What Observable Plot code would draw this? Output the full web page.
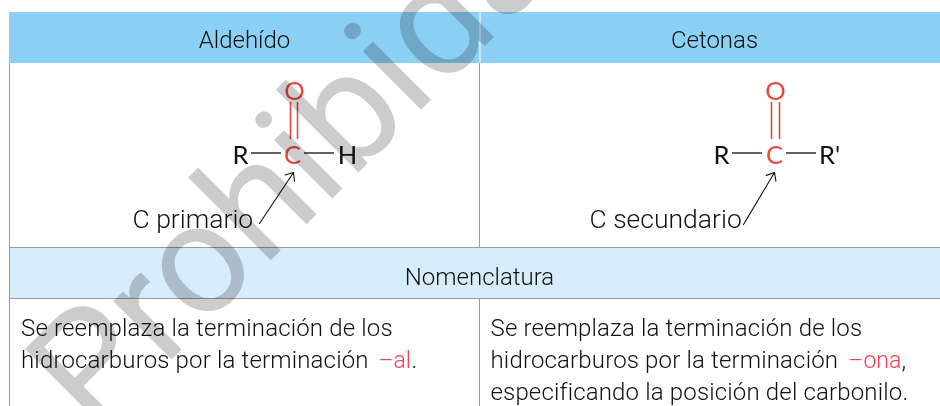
<!DOCTYPE html>
<html><head><meta charset="utf-8">
<style>
html,body{margin:0;padding:0;background:#fff;overflow:hidden}
svg{display:block}
.ls text{letter-spacing:0.16px}
</style>
<script src="https://cdn.jsdelivr.net/npm/d3@7"></script>
<script src="https://cdn.jsdelivr.net/npm/@observablehq/plot@0.6"></script>
</head><body><div id="c"></div>
<script>
const headers = [{t:"Aldehído",x:244},{t:"Cetonas",x:714}];
const subheader = [{t:"Nomenclatura",x:479}];
const body = [
 {t:"Se reemplaza la terminación de los",x:20.5,y:335},
 {t:"hidrocarburos por la terminación",x:20.5,y:367},
 {t:"Se reemplaza la terminación de los",x:490,y:335},
 {t:"hidrocarburos por la terminación",x:490,y:367},
 {t:"especificando la posición del carbonilo.",x:490,y:399},
 {t:".",x:411,y:367},{t:",",x:901,y:367}
];
const endings = [{t:"–al",x:378,y:367},{t:"–ona",x:848,y:367}];
const atomsBlack = [{t:"R",x:240},{t:"H",x:347},{t:"R",x:721},{t:"R'",x:829}];
const atomsRed = [{t:"O",x:294,y:99},{t:"C",x:292,y:163},{t:"O",x:775,y:99},{t:"C",x:774,y:163}];
const singleBonds = [{x1:251,x2:281},{x1:304,x2:334},{x1:732,x2:762},{x1:786,x2:816}];
const doubleBonds = [290,297,771,779];
const captions = [{t:"C primario",x:132},{t:"C secundario",x:589}];
const arrows = [{x1:259,y1:223,x2:293,y2:172},{x1:743,y1:224,x2:774,y2:172}];
const grid = [
 {x:9,y1:63,y2:406},{x:479,y1:63,y2:247},{x:479,y1:298,y2:406}
];
const hlines = [247,298];
const watermark = [{t:"Prohibida su reproducción",x:94,y:436}];

const font = "Roboto";
const plot = Plot.plot({
 width:940,height:406,margin:0,
 x:{domain:[0,940],range:[0,940],axis:null},
 y:{domain:[0,406],range:[0,406],axis:null},
 style:{background:"#fff",overflow:"hidden"},
 marks:[
  Plot.rect([{}],{x1:9,x2:479.5,y1:12,y2:63,fill:"#8bd1f5"}),
  Plot.rect([{}],{x1:480.5,x2:940,y1:12,y2:63,fill:"#8bd1f5"}),
  Plot.rect([{}],{x1:9,x2:940,y1:248,y2:298,fill:"#d7edfb"}),
  Plot.ruleX(grid,{x:"x",y1:"y1",y2:"y2",stroke:"#9a9a9a",strokeWidth:1}),
  Plot.ruleY(hlines,{y:d=>d,x1:9,x2:940,stroke:"#9a9a9a",strokeWidth:1}),
  Plot.ruleX(doubleBonds,{x:d=>d,y1:102,y2:139,stroke:"#e8473a",strokeWidth:1.6}),
  Plot.ruleY(singleBonds,{y:152.5,x1:"x1",x2:"x2",stroke:"#111",strokeWidth:1.3}),
  Plot.arrow(arrows,{x1:"x1",y1:"y1",x2:"x2",y2:"y2",stroke:"#111",strokeWidth:1.1,headLength:12,headAngle:80}),
  Plot.text(headers,{x:"x",y:47.5,text:"t",fontFamily:font,fontWeight:300,fontSize:24,fill:"#111",lineAnchor:"bottom"}),
  Plot.text(subheader,{x:"x",y:284,text:"t",fontFamily:font,fontWeight:300,fontSize:24,fill:"#111",lineAnchor:"bottom"}),
  Plot.text(body,{x:"x",y:"y",text:"t",textAnchor:"start",fontFamily:font,fontWeight:300,fontSize:24,fill:"#111",lineAnchor:"bottom",className:"ls"}),
  Plot.text(endings,{x:"x",y:"y",text:"t",textAnchor:"start",fontFamily:font,fontWeight:300,fontSize:23,fill:"#ef4056",lineAnchor:"bottom"}),
  Plot.text(captions,{x:"x",y:227,text:"t",textAnchor:"start",fontFamily:font,fontWeight:300,fontSize:26.5,fill:"#111",lineAnchor:"bottom"}),
  Plot.text(atomsBlack,{x:"x",y:163,text:"t",fontFamily:"Lato",fontSize:25.5,fill:"#111",lineAnchor:"bottom"}),
  Plot.text(atomsRed,{x:"x",y:"y",text:"t",fontFamily:"Lato",fontSize:25.5,fill:"#e8473a",lineAnchor:"bottom"}),
  Plot.text(watermark,{x:"x",y:"y",text:"t",textAnchor:"start",rotate:-45,fontFamily:"Roboto",fontWeight:400,fontSize:156,fill:"#cccccc",lineAnchor:"bottom",mixBlendMode:"multiply"})
 ]
});
document.getElementById("c").appendChild(plot);
</script></body></html>
